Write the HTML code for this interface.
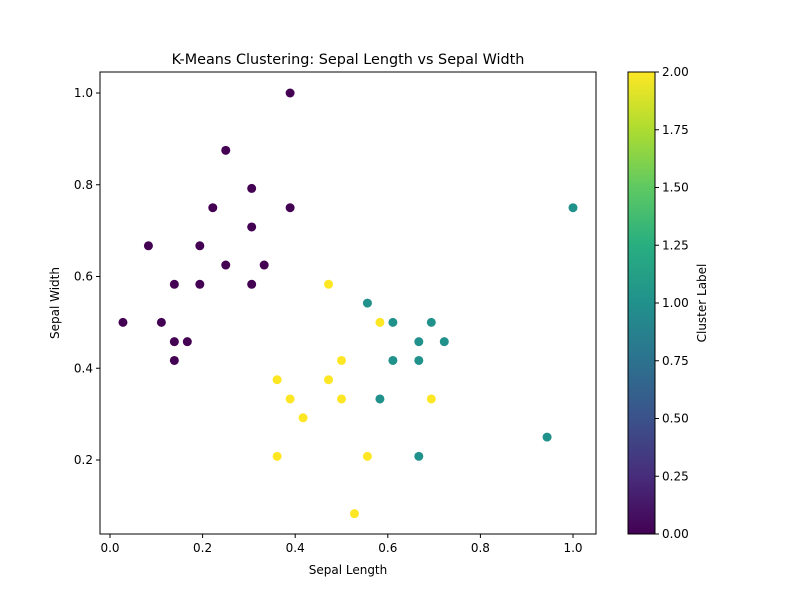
<!DOCTYPE html>
<html><head><meta charset="utf-8"><style>
body{margin:0;background:#fff;font-family:"Liberation Sans","DejaVu Sans",sans-serif}
svg text{font-family:"DejaVu Sans","Liberation Sans",sans-serif}
</style></head><body>
<svg id="chart" width="800" height="600">
<defs><linearGradient id="vir" x1="0" y1="1" x2="0" y2="0">
<stop offset="0" stop-color="#440154"/><stop offset="0.125" stop-color="#472d7b"/><stop offset="0.25" stop-color="#3b528b"/><stop offset="0.375" stop-color="#2c728e"/><stop offset="0.5" stop-color="#21918c"/><stop offset="0.625" stop-color="#28ae80"/><stop offset="0.75" stop-color="#5ec962"/><stop offset="0.875" stop-color="#addc30"/><stop offset="1" stop-color="#fde725"/></linearGradient></defs>
</svg>
<script>
const xs=[0.389,0.25,0.306,0.222,0.389,0.306,0.083,0.194,0.25,0.333,0.139,0.194,0.306,0.028,0.111,0.139,0.167,0.139,
1.0,0.556,0.611,0.694,0.667,0.722,0.611,0.667,0.583,0.667,0.944,
0.472,0.583,0.5,0.361,0.472,0.389,0.5,0.694,0.417,0.361,0.556,0.528];
const ys=[1.0,0.875,0.792,0.75,0.75,0.708,0.667,0.667,0.625,0.625,0.583,0.583,0.583,0.5,0.5,0.458,0.458,0.417,
0.75,0.542,0.5,0.5,0.458,0.458,0.417,0.417,0.333,0.208,0.25,
0.583,0.5,0.417,0.375,0.375,0.333,0.333,0.333,0.292,0.208,0.208,0.083];
const labels=[0,0,0,0,0,0,0,0,0,0,0,0,0,0,0,0,0,0,1,1,1,1,1,1,1,1,1,1,1,2,2,2,2,2,2,2,2,2,2,2,2];
const xTicks=[0,0.2,0.4,0.6,0.8,1.0];
const yTicks=[0.2,0.4,0.6,0.8,1.0];
const cbTicks=[0,0.25,0.5,0.75,1,1.25,1.5,1.75,2];
const colors=['#440154','#21918c','#fde725'];
const svg=document.getElementById('chart');const NS='http://www.w3.org/2000/svg';
const L=100,R=596,T=72,B=534;
const sx=v=>110+v*463, sy=v=>551.75-v*458.75;
function mk(t,a,p){const e=document.createElementNS(NS,t);for(const k in a)e.setAttribute(k,a[k]);(p||svg).appendChild(e);return e;}
let f=mk('rect',{x:L,y:T,width:R-L,height:B-T,fill:'none',stroke:'#000','stroke-width':1});


xTicks.forEach(v=>{const x=sx(v);mk('line',{x1:x,x2:x,y1:B,y2:B+4,stroke:'#000'});
const t=mk('text',{x:x,y:B+18,'text-anchor':'middle','font-size':12});t.textContent=v.toFixed(1);

});
yTicks.forEach(v=>{const y=sy(v);mk('line',{x1:L-4,x2:L,y1:y,y2:y,stroke:'#000'});
const t=mk('text',{x:L-7,y:y+4,'text-anchor':'end','font-size':12});t.textContent=v.toFixed(1);

});
xs.forEach((v,i)=>{const c=mk('circle',{cx:sx(v),cy:sy(ys[i]),r:4.5,fill:colors[labels[i]]});

});
let t=mk('text',{x:348,y:64,'text-anchor':'middle','font-size':14.4});t.textContent='K-Means Clustering: Sepal Length vs Sepal Width';


t=mk('text',{x:348,y:574,'text-anchor':'middle','font-size':12});t.textContent='Sepal Length';


t=mk('text',{x:59,y:303,'text-anchor':'middle','font-size':12,transform:'rotate(-90 59 303)'});t.textContent='Sepal Width';


const cb=mk('rect',{x:628,y:T,width:27,height:B-T,fill:'url(#vir)',stroke:'#000','stroke-width':1});


cbTicks.forEach(v=>{const y=B-v/2*(B-T);mk('line',{x1:655,x2:659,y1:y,y2:y,stroke:'#000'});
const tt=mk('text',{x:662,y:y+4,'font-size':12});tt.textContent=v.toFixed(2);

});
t=mk('text',{x:706,y:303,'text-anchor':'middle','font-size':12,transform:'rotate(-90 706 303)'});t.textContent='Cluster Label';


</script>
</body></html>
